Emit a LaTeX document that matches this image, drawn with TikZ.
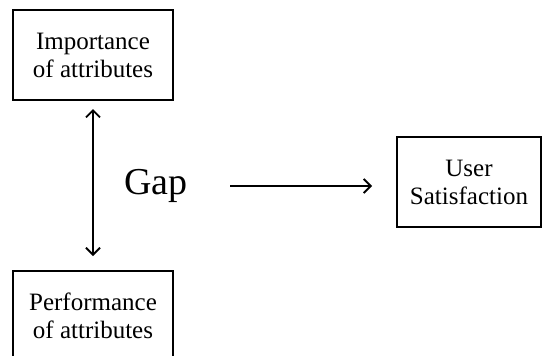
\documentclass[tikz,border=0pt]{standalone}
\usepackage{fontspec}
\setmainfont{Liberation Serif}
\usetikzlibrary{positioning,arrows.meta}

\begin{document}
\begin{tikzpicture}[x=1pt,y=-1pt,>={Straight Barb[length=7pt,width=14pt]},
  box/.style={draw,line width=2pt,minimum width=160pt,minimum height=90pt,align=center,font=\fontsize{25}{28}\selectfont},
  link/.style={->,line width=1.8pt}]

\clip (0,0) rectangle (544,356);


\node[box] (imp) at (93,55) {Importance\\of attributes};
\node[box,below = 169pt of imp] (perf) {Performance\\of attributes};
\node[font=\fontsize{38}{40}\selectfont] (gap) at (156,186) {Gap};
\node[box,minimum width=144pt] (user) at (469,182) {User\\Satisfaction};

\path (imp)  edge[link,<->,shorten <=8pt,shorten >=14pt] (perf);
\path (gap.east)  edge[link,shorten <=39pt,shorten >=24pt] (gap.east -| user.west);

\end{tikzpicture}
\end{document}
